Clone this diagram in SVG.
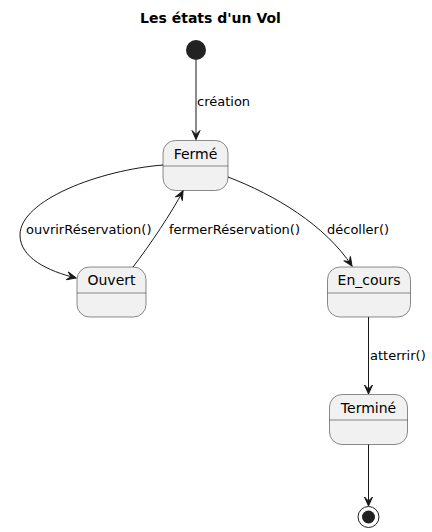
<svg xmlns="http://www.w3.org/2000/svg" width="432" height="532" viewBox="0 0 432 532">
<style>
.st{fill:#F1F1F1;stroke:#181818;stroke-width:0.5}
.dv{stroke:#181818;stroke-width:0.5}
.nm{font-family:"DejaVu Sans",sans-serif;font-size:14px;fill:#000;text-anchor:middle}
.lb{font-family:"DejaVu Sans",sans-serif;font-size:13px;fill:#000}
.ln{fill:none;stroke:#181818;stroke-width:1;marker-end:url(#ah)}
</style>
<defs>
<marker id="ah" viewBox="-10 -5 11 10" refX="0" refY="0" markerWidth="11" markerHeight="10" markerUnits="userSpaceOnUse" orient="auto">
<path d="M0,0 L-9,-4 L-5,0 L-9,4 Z" fill="#181818" stroke="#181818" stroke-width="1"/>
</marker>
</defs>
<text x="210.5" y="23" font-family="DejaVu Sans,sans-serif" font-size="14" font-weight="bold" text-anchor="middle">Les états d'un Vol</text>
<g id="start"><circle cx="196" cy="50" r="10" fill="#222222"/></g>
<g id="Ferme"><rect class="st" x="163" y="140.5" width="65" height="50" rx="12.5"/><line class="dv" x1="163" y1="166" x2="228" y2="166"/><text class="nm" x="195.5" y="158.5">Fermé</text></g>
<g id="Ouvert"><rect class="st" x="77" y="267" width="69" height="50" rx="12.5"/><line class="dv" x1="77" y1="293" x2="146" y2="293"/><text class="nm" x="111.5" y="285">Ouvert</text></g>
<g id="En_cours"><rect class="st" x="327.5" y="267" width="83" height="50" rx="12.5"/><line class="dv" x1="327.5" y1="293" x2="410.5" y2="293"/><text class="nm" x="369" y="285">En_cours</text></g>
<g id="Termine"><rect class="st" x="329.5" y="394.5" width="78" height="50" rx="12.5"/><line class="dv" x1="329.5" y1="420" x2="407.5" y2="420"/><text class="nm" x="368.5" y="412.5">Terminé</text></g>
<g id="end"><circle cx="368.5" cy="517" r="10.5" fill="none" stroke="#222222" stroke-width="1"/><circle cx="368.5" cy="517" r="6.5" fill="#222222"/></g>
<g id="connectors">
<path class="ln" d="M196,60 L196,139.5"/>
<path class="ln" d="M163,165 C100,170 20,200 20,235 C20,258 48,271 76,278"/>
<path class="ln" d="M133,267 C150,245 172,212 183,191"/>
<path class="ln" d="M228,177 C275,195 325,225 352,266"/>
<path class="ln" d="M368.5,317 L368.5,394"/>
<path class="ln" d="M368.5,444.5 L368.5,506"/>
<text class="lb" x="197" y="106">création</text>
<text class="lb" x="26" y="234">ouvrirRéservation()</text>
<text class="lb" x="169" y="234">fermerRéservation()</text>
<text class="lb" x="327" y="234">décoller()</text>
<text class="lb" x="370" y="360">atterrir()</text>
</g>
</svg>
